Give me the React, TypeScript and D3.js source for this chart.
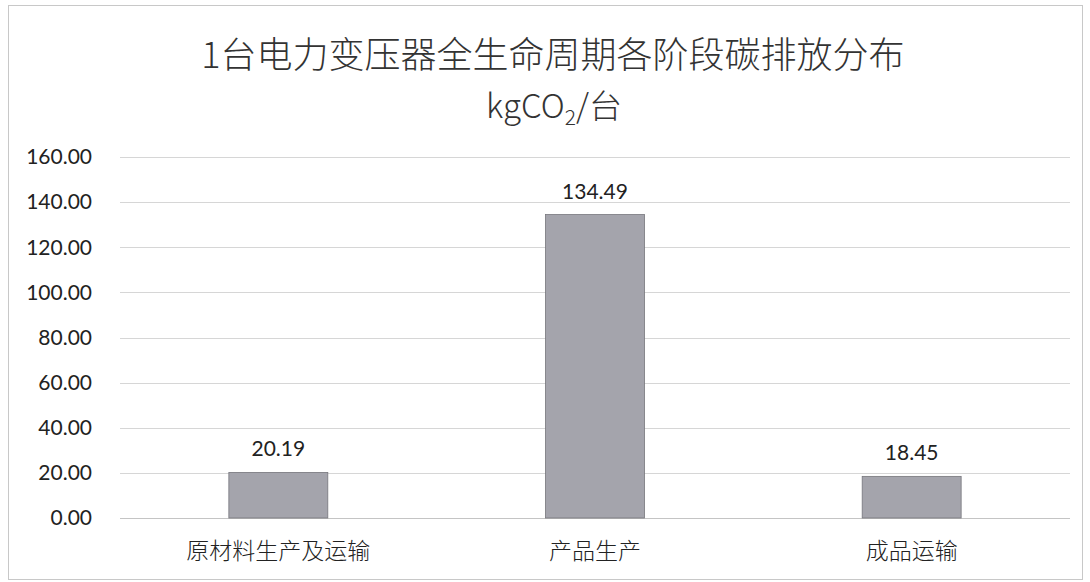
import React, { useEffect, useRef } from "react";
import * as d3 from "d3";

const categories = ["原材料生产及运输", "产品生产", "成品运输"];
const values = [20.19, 134.49, 18.45];
const yTicks = [0, 20, 40, 60, 80, 100, 120, 140, 160];
const titleLine1 = "1台电力变压器全生命周期各阶段碳排放分布";

const W = 1090;
const H = 582;

export default function App() {
  const ref = useRef<SVGSVGElement | null>(null);

  useEffect(() => {
    document.body.style.margin = "0";
    const svg = d3.select(ref.current);
    svg.selectAll("*").remove();

    const left = 120, right = 1070, top = 157, bottom = 518;
    const x = d3
      .scaleBand<string>()
      .domain(categories)
      .range([left, right])
      .paddingInner(0.6875)
      .paddingOuter(0.34375);
    const y = d3.scaleLinear().domain([0, 160]).range([bottom, top]);

    svg
      .append("rect")
      .attr("x", 8.5)
      .attr("y", 5.5)
      .attr("width", 1074)
      .attr("height", 574)
      .attr("fill", "white")
      .attr("stroke", "#c8c8c8")
      .attr("stroke-width", 1);

    svg
      .append("g")
      .selectAll("line")
      .data(yTicks)
      .join("line")
      .attr("x1", left)
      .attr("x2", right)
      .attr("y1", (d) => Math.round(y(d)) + 0.5)
      .attr("y2", (d) => Math.round(y(d)) + 0.5)
      .attr("stroke", (d) => (d === 0 ? "#c4c4c4" : "#d6d6d6"))
      .attr("stroke-width", 1);

    svg
      .append("g")
      .selectAll("text")
      .data(yTicks)
      .join("text")
      .attr("x", 92)
      .attr("y", (d) => y(d))
      .attr("dy", "0.35em")
      .attr("text-anchor", "end")
      .attr("font-family", "Lato, 'Open Sans', sans-serif")
      .attr("font-size", 21)
      .attr("fill", "#222")
      .text((d) => d3.format(".2f")(d));

    svg
      .append("g")
      .selectAll("rect")
      .data(values)
      .join("rect")
      .attr("x", (_, i) => x(categories[i])!)
      .attr("y", (d) => y(d))
      .attr("width", x.bandwidth())
      .attr("height", (d) => bottom - y(d))
      .attr("fill", "#a4a4ac")
      .attr("stroke", "#76767c")
      .attr("stroke-width", 0.8);

    svg
      .append("g")
      .selectAll("text")
      .data(values)
      .join("text")
      .attr("x", (_, i) => x(categories[i])! + x.bandwidth() / 2)
      .attr("y", (d) => y(d) - 16)
      .attr("text-anchor", "middle")
      .attr("font-family", "Lato, 'Open Sans', sans-serif")
      .attr("font-size", 21)
      .attr("fill", "#222")
      .text((d) => d3.format(".2f")(d));

    svg
      .append("g")
      .selectAll("text")
      .data(categories)
      .join("text")
      .attr("x", (d) => x(d)! + x.bandwidth() / 2)
      .attr("y", 551)
      .attr("dy", "0.35em")
      .attr("text-anchor", "middle")
      .attr("font-family", "'Noto Sans CJK SC', sans-serif")
      .attr("font-weight", 300)
      .attr("font-size", 23)
      .attr("fill", "#222")
      .text((d) => d);

    svg
      .append("text")
      .attr("x", 553)
      .attr("y", 55)
      .attr("dy", "0.35em")
      .attr("text-anchor", "middle")
      .attr("font-family", "'Noto Sans CJK SC', sans-serif")
      .attr("font-weight", 300)
      .attr("font-size", 36)
      .attr("fill", "#333")
      .text(titleLine1);

    const t2 = svg
      .append("text")
      .attr("x", 554)
      .attr("y", 106)
      .attr("dy", "0.35em")
      .attr("text-anchor", "middle")
      .attr("font-family", "'Noto Sans CJK SC', sans-serif")
      .attr("font-weight", 300)
      .attr("font-size", 33)
      .attr("fill", "#333");
    t2.append("tspan").text("kgCO");
    t2.append("tspan").attr("font-size", 21).attr("dy", 7).text("2");
    t2.append("tspan").attr("dy", -7).text("/台");
  }, []);

  return <svg ref={ref} width={W} height={H} style={{ display: "block" }} />;
}
